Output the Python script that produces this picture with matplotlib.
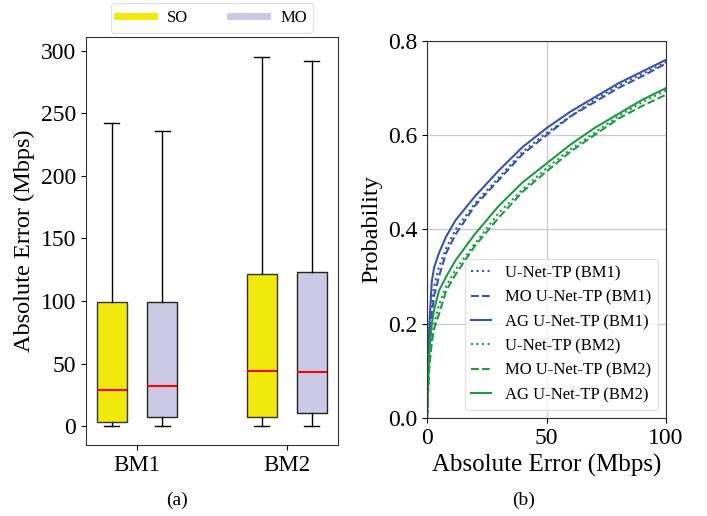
import matplotlib
matplotlib.use("Agg")
import matplotlib.pyplot as plt
from matplotlib.lines import Line2D

plt.rcParams['font.family'] = ['Liberation Serif', 'DejaVu Serif']

# (a) box plot stats
groups = ['BM1', 'BM2']
so_stats = [  # whislo, q1, med, q3, whishi
    (0, 3.5, 29, 99, 242),
    (0, 7.5, 44, 122, 295),
]
mo_stats = [
    (0, 7.5, 32, 99, 236),
    (0, 10.5, 43, 123.5, 292),
]

# (b) CDF curves
err_x = [0, 0.5, 1, 2, 3, 5, 8, 12, 20, 30, 40, 50, 60, 70, 80, 90, 100]
unet_bm1 = [0, 0.10, 0.17, 0.24, 0.28, 0.32, 0.36, 0.40, 0.455, 0.51, 0.565, 0.605, 0.64, 0.675, 0.705, 0.73, 0.755]
mo_bm1 = [0, 0.09, 0.16, 0.22, 0.26, 0.30, 0.35, 0.39, 0.45, 0.505, 0.56, 0.60, 0.64, 0.67, 0.70, 0.725, 0.752]
ag_bm1 = [0, 0.12, 0.20, 0.29, 0.32, 0.35, 0.385, 0.42, 0.47, 0.525, 0.575, 0.615, 0.65, 0.68, 0.71, 0.735, 0.76]
unet_bm2 = [0, 0.07, 0.12, 0.17, 0.20, 0.24, 0.28, 0.315, 0.37, 0.435, 0.485, 0.53, 0.57, 0.605, 0.64, 0.67, 0.695]
mo_bm2 = [0, 0.06, 0.11, 0.16, 0.19, 0.22, 0.27, 0.305, 0.365, 0.425, 0.48, 0.523, 0.565, 0.60, 0.635, 0.662, 0.686]
ag_bm2 = [0, 0.08, 0.14, 0.20, 0.23, 0.27, 0.30, 0.335, 0.39, 0.45, 0.50, 0.54, 0.58, 0.615, 0.645, 0.675, 0.70]

yellow = '#f0e90c'
lavender = '#cbc9e5'
blue = '#3653b0'
green = '#1e9a44'

fig = plt.figure(figsize=(7.07, 5.16), dpi=100)

# ---- left panel
ax1 = fig.add_axes([0.1216, 0.1376, 0.3564, 0.7907])

def to_dicts(stats):
    return [dict(whislo=s[0], q1=s[1], med=s[2], q3=s[3], whishi=s[4], fliers=[]) for s in stats]

pos = [1, 2]
box_kw = dict(widths=0.2, patch_artist=True, showfliers=False,
              medianprops=dict(color='red', linewidth=1.5),
              whiskerprops=dict(color='black', linewidth=1),
              capprops=dict(color='black', linewidth=1))
b1 = ax1.bxp(to_dicts(so_stats), positions=[p - 0.167 for p in pos], **box_kw)
b2 = ax1.bxp(to_dicts(mo_stats), positions=[p + 0.167 for p in pos], **box_kw)
for patch in b1['boxes']:
    patch.set_facecolor(yellow)
    patch.set_edgecolor('#333333')
for patch in b2['boxes']:
    patch.set_facecolor(lavender)
    patch.set_edgecolor('#222222')

ax1.set_xticks(pos)
ax1.set_xticklabels(groups, fontsize=16.5)
ax1.set_xlim(0.66, 2.34)
ax1.set_ylim(-15, 311)
ax1.set_yticks([0, 50, 100, 150, 200, 250, 300])
ax1.tick_params(axis='y', labelsize=17)
ax1.set_ylabel('Absolute Error (Mbps)', fontsize=17.5)
for sp in ax1.spines.values():
    sp.set_color('#333333')

handles = [Line2D([], [], color=yellow, linewidth=5),
           Line2D([], [], color=lavender, linewidth=5)]
ax1.legend(handles, ['SO', 'MO'], ncol=2, loc='lower center',
           bbox_to_anchor=(0.5, 1.0), borderaxespad=0.25, fontsize=12,
           columnspacing=2.5, handlelength=2.2, frameon=True, edgecolor='#dddddd')

fig.text(0.25, 0.031, '(a)', ha='center', va='center', fontsize=14)

# ---- right panel
ax2 = fig.add_axes([0.604, 0.19, 0.338, 0.7306])
ax2.plot(err_x, unet_bm1, color=blue, linestyle=':', linewidth=1.5, label='U-Net-TP (BM1)')
ax2.plot(err_x, mo_bm1, color=blue, linestyle='--', linewidth=1.5, label='MO U-Net-TP (BM1)')
ax2.plot(err_x, ag_bm1, color=blue, linestyle='-', linewidth=1.5, label='AG U-Net-TP (BM1)')
ax2.plot(err_x, unet_bm2, color=green, linestyle=':', linewidth=1.5, label='U-Net-TP (BM2)')
ax2.plot(err_x, mo_bm2, color=green, linestyle='--', linewidth=1.5, label='MO U-Net-TP (BM2)')
ax2.plot(err_x, ag_bm2, color=green, linestyle='-', linewidth=1.5, label='AG U-Net-TP (BM2)')
ax2.set_xlim(0, 100)
ax2.set_ylim(0, 0.8)
ax2.set_xticks([0, 50, 100])
ax2.set_yticks([0.0, 0.2, 0.4, 0.6, 0.8])
ax2.grid(True, color='#cccccc', linewidth=1)
ax2.tick_params(labelsize=17)
ax2.set_xlabel('Absolute Error (Mbps)', fontsize=18)
ax2.set_ylabel('Probability', fontsize=17.5)
for sp in ax2.spines.values():
    sp.set_color('#333333')
ax2.legend(loc='lower right', fontsize=12, frameon=True, edgecolor='#dddddd',
           handlelength=1.2)

fig.text(0.74, 0.031, '(b)', ha='center', va='center', fontsize=14)

fig.savefig('out.png', dpi=100)
